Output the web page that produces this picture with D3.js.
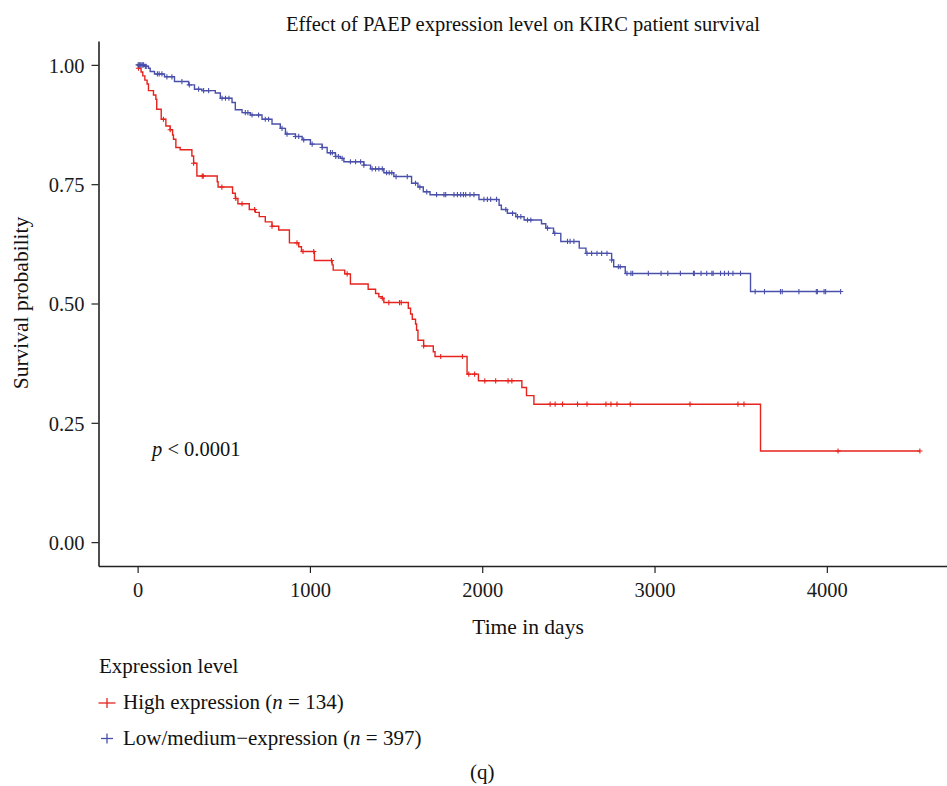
<!DOCTYPE html>
<html>
<head>
<meta charset="utf-8">
<script src="https://cdn.jsdelivr.net/npm/d3@7/dist/d3.min.js"></script>
<style>
  html, body { margin: 0; padding: 0; background: #fff; }
  svg { display: block; font-family: "Liberation Serif", "DejaVu Serif", serif; }
</style>
</head>
<body>
<svg id="chart" width="947" height="786"></svg>
<script>
// ---------------- data ----------------
const chartTitle = "Effect of PAEP expression level on KIRC patient survival";
const xTicks = [0, 1000, 2000, 3000, 4000];
const yTicks = [0, 0.25, 0.5, 0.75, 1];
const seriesNames = ["High expression", "Low/medium\u2212expression"];
const seriesN = [134, 397];

// High expression: event times (days) and survival after each step
const highTime = [0, 5, 20, 30, 42, 55, 63, 92, 106, 111, 137, 164, 189, 203, 208, 222, 247, 315, 325, 344,
  462, 467, 551, 567, 582, 648, 683, 706, 741, 780, 819, 881, 935, 951, 1026, 1129, 1135, 1202, 1235, 1338,
  1381, 1400, 1420, 1429, 1571, 1584, 1594, 1613, 1619, 1627, 1660, 1716, 1726, 1912, 1978, 2230, 2257, 2300, 3615];
const highSurv = [1.0, 0.993, 0.985, 0.977, 0.968, 0.960, 0.946, 0.937, 0.928, 0.907, 0.886, 0.872, 0.864, 0.853, 0.844, 0.827, 0.822, 0.809, 0.794, 0.767,
  0.755, 0.744, 0.731, 0.720, 0.709, 0.697, 0.691, 0.682, 0.671, 0.662, 0.654, 0.627, 0.619, 0.609, 0.590, 0.581, 0.570, 0.562, 0.541, 0.530,
  0.521, 0.514, 0.511, 0.502, 0.490, 0.478, 0.467, 0.457, 0.444, 0.423, 0.411, 0.399, 0.389, 0.352, 0.338, 0.324, 0.307, 0.289, 0.191];
const highEnd = 4540;
const highCensor = [5, 150, 189, 325, 375, 381, 489, 570, 606, 679, 780, 925, 960, 1022, 1125, 1216, 1420, 1458, 1520, 1530,
  1660, 1759, 1885, 1922, 1956, 2015, 2078, 2150, 2172, 2394, 2423, 2466, 2553, 2608, 2718, 2747, 2782, 2859, 3206, 3484, 3519, 4065, 4540];

// Low/medium expression
const lowTime = [0, 40, 63, 73, 98, 156, 214, 296, 330, 373, 451, 480, 548, 567, 606, 654, 722, 780, 828, 858, 916, 955,
  1003, 1071, 1100, 1148, 1177, 1197, 1313, 1352, 1429, 1487, 1590, 1627, 1658, 1697, 1981, 2098, 2111, 2146, 2195, 2243,
  2344, 2369, 2414, 2456, 2563, 2602, 2751, 2763, 2830, 3557];
const lowSurv = [1.0, 0.997, 0.993, 0.986, 0.981, 0.975, 0.965, 0.958, 0.949, 0.946, 0.941, 0.930, 0.921, 0.906, 0.900, 0.895, 0.886, 0.876, 0.867, 0.855, 0.850, 0.843,
  0.834, 0.827, 0.816, 0.808, 0.804, 0.797, 0.790, 0.782, 0.774, 0.766, 0.752, 0.744, 0.734, 0.728, 0.718, 0.706, 0.697, 0.689, 0.682, 0.675,
  0.667, 0.658, 0.647, 0.630, 0.616, 0.605, 0.591, 0.577, 0.563, 0.525];
const lowEnd = 4080;
const lowCensor = [3, 8, 12, 18, 25, 30, 35, 45, 50, 115, 125, 141, 170, 199, 257, 300, 354, 383, 412, 490, 510, 530, 625, 640, 664,
  702, 741, 760, 838, 867, 916, 935, 964, 1013, 1071, 1119, 1130, 1150, 1165, 1187, 1235, 1265, 1294, 1313, 1361, 1381, 1400, 1420,
  1445, 1460, 1475, 1500, 1565, 1613, 1638, 1678, 1735, 1778, 1788, 1836, 1856, 1875, 1891, 1904, 1929, 1952, 2010, 2030, 2049, 2083,
  2137, 2176, 2205, 2224, 2263, 2282, 2379, 2421, 2495, 2510, 2532, 2608, 2635, 2666, 2693, 2724, 2751, 2790, 2801, 2840, 2863, 2873,
  2964, 3038, 3077, 3150, 3226, 3231, 3270, 3303, 3333, 3340, 3383, 3406, 3429, 3455, 3499, 3584, 3638, 3731, 3741, 3838, 3939, 3945,
  3984, 3993, 4080];

const colors = ["#E6231C", "#4A50AA"];

// ---------------- drawing ----------------
const svg = d3.select("#chart");
const x = d3.scaleLinear().domain([-227, 4767]).range([98.5, 959]);
const y = d3.scaleLinear().domain([-0.05, 1.05]).range([566, 41]);

const FS_TITLE = 20.5, FS_TICK = 20.5, FS_AXT = 21.5, FS_LEG = 21;

// title
svg.append("text").attr("x", 523).attr("y", 31).attr("text-anchor", "middle")
  .attr("font-size", FS_TITLE).attr("fill", "#111").text(chartTitle);

// axes
const yAxis = d3.axisLeft(y).tickValues(yTicks).tickFormat(d3.format(".2f")).tickSize(7).tickSizeOuter(0).tickPadding(7);
const xAxis = d3.axisBottom(x).tickValues(xTicks).tickFormat(d3.format("d")).tickSize(7).tickSizeOuter(0).tickPadding(6);

const gy = svg.append("g").attr("transform", "translate(98.5,0)").call(yAxis);
const gx = svg.append("g").attr("transform", "translate(0,566)").call(xAxis);
[gx, gy].forEach(g => {
  g.selectAll("text").attr("font-size", FS_TICK).attr("fill", "#1a1a1a").attr("font-family", "Liberation Serif, serif");
  g.selectAll("line").attr("stroke", "#222").attr("stroke-width", 1.2);
  g.select(".domain").attr("stroke", "#222").attr("stroke-width", 1.6);
});
gy.selectAll("text").attr("dy", "0.35em");
gx.selectAll("text").attr("dy", "0.9em");

// axis titles
svg.append("text").attr("x", 528).attr("y", 634).attr("text-anchor", "middle")
  .attr("font-size", FS_AXT).attr("fill", "#111").text("Time in days");
svg.append("text").attr("transform", "translate(28,303) rotate(-90)").attr("text-anchor", "middle")
  .attr("font-size", FS_AXT).attr("fill", "#111").text("Survival probability");

// curves
function survAt(times, survs, t) {
  let s = survs[0];
  for (let i = 0; i < times.length; i++) if (times[i] <= t) s = survs[i];
  return s;
}
const series = [
  { t: highTime, s: highSurv, end: highEnd, c: highCensor, color: colors[0] },
  { t: lowTime, s: lowSurv, end: lowEnd, c: lowCensor, color: colors[1] }
];
const line = d3.line().x(d => x(d[0])).y(d => y(d[1])).curve(d3.curveStepAfter);
const plus = "M-2.6,0H2.6M0,-2.6V2.6";

series.forEach(sr => {
  const pts = sr.t.map((t, i) => [t, sr.s[i]]);
  pts.push([sr.end, sr.s[sr.s.length - 1]]);
  svg.append("path").datum(pts).attr("d", line).attr("fill", "none")
    .attr("stroke", sr.color).attr("stroke-width", 1.4);
  svg.append("g").selectAll("path").data(sr.c).join("path")
    .attr("transform", d => `translate(${x(d)},${y(survAt(sr.t, sr.s, d))})`)
    .attr("d", plus).attr("stroke", sr.color).attr("stroke-width", 1.1).attr("fill", "none");
});

// p-value
const pt = svg.append("text").attr("x", 152).attr("y", 456).attr("font-size", FS_TICK).attr("fill", "#111");
pt.append("tspan").attr("font-style", "italic").text("p");
pt.append("tspan").text(" < 0.0001");

// legend
svg.append("text").attr("x", 99).attr("y", 673).attr("font-size", FS_LEG).attr("fill", "#111").text("Expression level");
const legY = [703, 738.5];
series.forEach((sr, i) => {
  const g = svg.append("g").attr("transform", `translate(107,${legY[i]})`);
  g.append("line").attr("x1", i === 0 ? -8.5 : -6).attr("x2", i === 0 ? 8.5 : 6).attr("y1", 0).attr("y2", 0)
    .attr("stroke", sr.color).attr("stroke-width", 1.3);
  g.append("line").attr("x1", 0).attr("x2", 0).attr("y1", -5).attr("y2", 5)
    .attr("stroke", sr.color).attr("stroke-width", 1.3);
  const t = svg.append("text").attr("x", 123).attr("y", legY[i] + 6).attr("font-size", FS_LEG).attr("fill", "#111");
  t.append("tspan").text(seriesNames[i] + " (");
  t.append("tspan").attr("font-style", "italic").text("n");
  t.append("tspan").text(" = " + seriesN[i] + ")");
});

// panel tag
svg.append("text").attr("x", 470).attr("y", 779).attr("font-size", FS_LEG).attr("fill", "#111").text("(q)");
</script>
</body>
</html>
